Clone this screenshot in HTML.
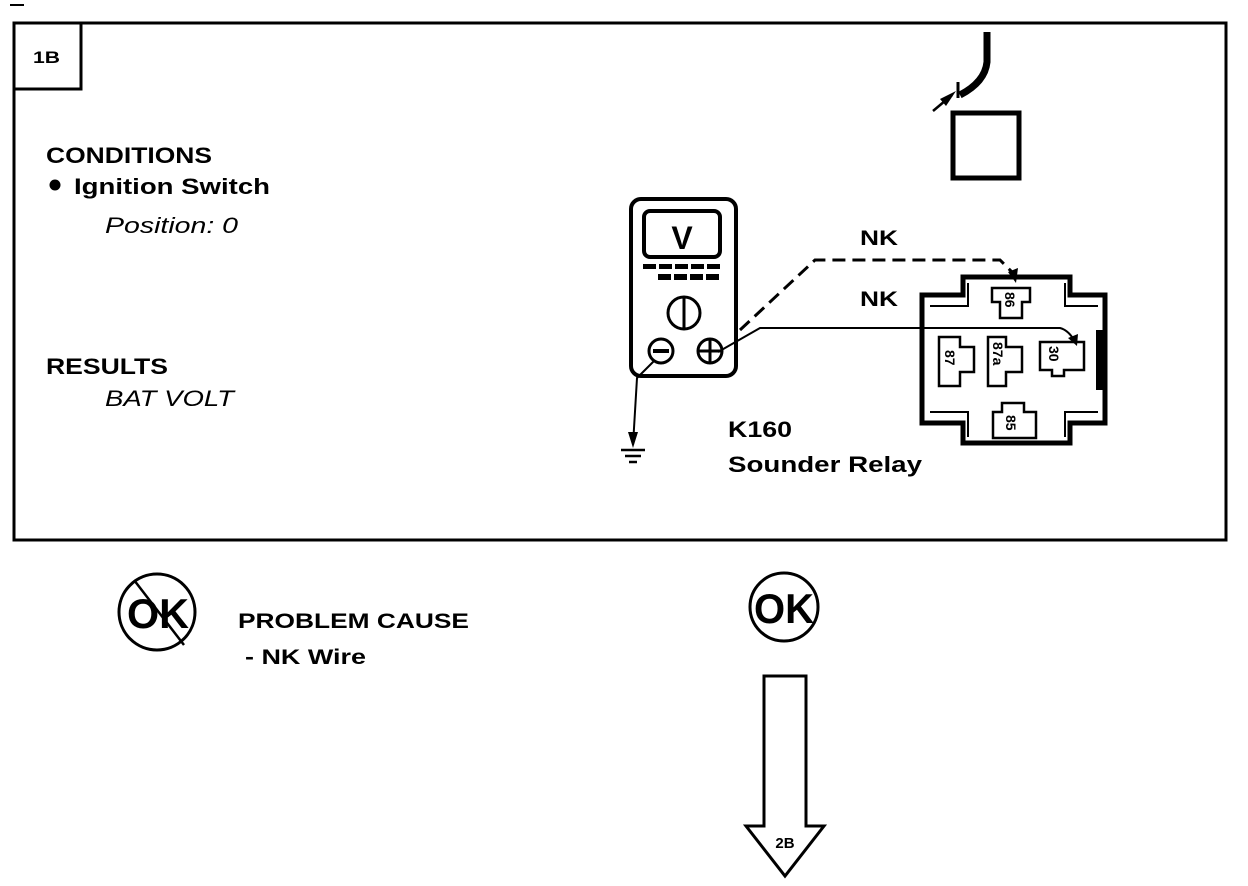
<!DOCTYPE html>
<html><head><meta charset="utf-8"><style>
html,body{margin:0;padding:0;background:#fff;}
svg{display:block;}
text{font-family:"Liberation Sans",Arial,sans-serif;fill:#000;}
.b{font-weight:bold;}
</style></head><body>
<svg width="1248" height="886" viewBox="0 0 1248 886" xmlns="http://www.w3.org/2000/svg">
<line x1="10" y1="5" x2="24" y2="5" stroke="#000" stroke-width="2"/>
<rect x="14" y="23" width="1212" height="517" fill="none" stroke="#000" stroke-width="3"/>
<rect x="14" y="23" width="67" height="66" fill="none" stroke="#000" stroke-width="3"/>
<text x="33" y="63" class="b" font-size="17" textLength="27" lengthAdjust="spacingAndGlyphs">1B</text>

<text x="46" y="163" class="b" font-size="22" textLength="166" lengthAdjust="spacingAndGlyphs">CONDITIONS</text>
<circle cx="55" cy="185" r="5.5" fill="#000"/>
<text x="74" y="194" class="b" font-size="22" textLength="196" lengthAdjust="spacingAndGlyphs">Ignition  Switch</text>
<text x="105" y="233" font-style="italic" font-size="22" textLength="133" lengthAdjust="spacingAndGlyphs">Position:  0</text>
<text x="46" y="374" class="b" font-size="22" textLength="122" lengthAdjust="spacingAndGlyphs">RESULTS</text>
<text x="105" y="406" font-style="italic" font-size="22" textLength="129" lengthAdjust="spacingAndGlyphs">BAT VOLT</text>

<path d="M987,32 L987,62 Q985,82 960,95" fill="none" stroke="#000" stroke-width="7"/>
<line x1="958" y1="82" x2="958" y2="98" stroke="#000" stroke-width="3"/>
<line x1="933" y1="111" x2="952" y2="95" stroke="#000" stroke-width="2.5"/>
<polygon points="956,91 940,99 946,106" fill="#000"/>
<rect x="953" y="113" width="66" height="65" fill="none" stroke="#000" stroke-width="5"/>

<rect x="631" y="199" width="105" height="177" rx="10" fill="none" stroke="#000" stroke-width="4"/>
<rect x="644" y="211" width="76" height="46" rx="6" fill="none" stroke="#000" stroke-width="4"/>
<text x="682" y="249" class="b" font-size="32" text-anchor="middle">V</text>
<g fill="#000">
<rect x="643" y="264" width="13" height="5"/><rect x="659" y="264" width="13" height="5"/><rect x="675" y="264" width="13" height="5"/><rect x="691" y="264" width="13" height="5"/><rect x="707" y="264" width="13" height="5"/>
<rect x="658" y="274" width="13" height="6"/><rect x="674" y="274" width="13" height="6"/><rect x="690" y="274" width="13" height="6"/><rect x="706" y="274" width="13" height="6"/>
</g>
<circle cx="684" cy="313" r="16" fill="none" stroke="#000" stroke-width="3"/>
<line x1="684" y1="298" x2="684" y2="328" stroke="#000" stroke-width="3"/>
<circle cx="661" cy="351" r="12" fill="none" stroke="#000" stroke-width="3"/>
<line x1="653" y1="351" x2="669" y2="351" stroke="#000" stroke-width="4"/>
<circle cx="710" cy="351" r="12" fill="none" stroke="#000" stroke-width="3"/>
<line x1="698" y1="351" x2="722" y2="351" stroke="#000" stroke-width="3"/>
<line x1="710" y1="339" x2="710" y2="363" stroke="#000" stroke-width="3"/>

<polyline points="655,360 637,378 633,445" fill="none" stroke="#000" stroke-width="2"/>
<polygon points="628,432 638,432 633,448" fill="#000"/>
<line x1="621" y1="450" x2="645" y2="450" stroke="#000" stroke-width="2.5"/>
<line x1="625" y1="456" x2="641" y2="456" stroke="#000" stroke-width="2.5"/>
<line x1="629" y1="462" x2="637" y2="462" stroke="#000" stroke-width="2.5"/>

<polyline points="740,330 815,260 1000,260 1012,272" fill="none" stroke="#000" stroke-width="3" stroke-dasharray="13,7"/>
<polygon points="1008,272 1018,268 1016,283" fill="#000"/>
<text x="860" y="245" class="b" font-size="21" textLength="38" lengthAdjust="spacingAndGlyphs">NK</text>
<text x="860" y="306" class="b" font-size="21" textLength="38" lengthAdjust="spacingAndGlyphs">NK</text>
<path d="M718,352 L760,328 L1060,328 Q1068,330 1074,340" fill="none" stroke="#000" stroke-width="2"/>
<polygon points="1068,338 1078,334 1077,346" fill="#000"/>

<polygon points="963,277 1070,277 1070,295 1105,295 1105,423 1070,423 1070,443 963,443 963,423 922,423 922,295 963,295" fill="none" stroke="#000" stroke-width="5"/>
<polyline points="930,306 968,306 968,283" fill="none" stroke="#000" stroke-width="2"/>
<polyline points="1065,283 1065,306 1098,306" fill="none" stroke="#000" stroke-width="2"/>
<polyline points="930,412 968,412 968,437" fill="none" stroke="#000" stroke-width="2"/>
<polyline points="1065,437 1065,412 1098,412" fill="none" stroke="#000" stroke-width="2"/>
<rect x="1096" y="330" width="8" height="60" fill="#000"/>
<g fill="none" stroke="#000" stroke-width="2.5">
<path d="M992,288 H1030 V302 H1022 V318 H1000 V302 H992 Z"/>
<path d="M939,337 H960 V347 H974 V372 H960 V386 H939 Z"/>
<path d="M988,337 H1006 V347 H1022 V372 H1006 V386 H988 Z"/>
<path d="M1040,342 H1084 V370 H1064 V376 H1052 V370 H1040 Z"/>
<path d="M1002,403 H1024 V412 H1036 V438 H993 V412 H1002 Z"/>
</g>
<g font-size="14" class="b">
<text transform="translate(1005,292) rotate(90)">86</text>
<text transform="translate(945,350) rotate(90)">87</text>
<text transform="translate(993,342) rotate(90)">87a</text>
<text transform="translate(1049,346) rotate(90)">30</text>
<text transform="translate(1006,415) rotate(90)">85</text>
</g>
<text x="728" y="437" class="b" font-size="22" textLength="64" lengthAdjust="spacingAndGlyphs">K160</text>
<text x="728" y="472" class="b" font-size="22" textLength="194" lengthAdjust="spacingAndGlyphs">Sounder Relay</text>

<circle cx="157" cy="612" r="38" fill="none" stroke="#000" stroke-width="3"/>
<line x1="134" y1="580" x2="184" y2="645" stroke="#000" stroke-width="2.5"/>
<text x="127" y="628" class="b" font-size="42" textLength="62" lengthAdjust="spacingAndGlyphs">OK</text>
<text x="238" y="628" class="b" font-size="21" textLength="231" lengthAdjust="spacingAndGlyphs">PROBLEM  CAUSE</text>
<text x="245" y="664" class="b" font-size="21" textLength="121" lengthAdjust="spacingAndGlyphs">- NK Wire</text>

<circle cx="784" cy="607" r="34" fill="none" stroke="#000" stroke-width="3"/>
<text x="754" y="623" class="b" font-size="42" textLength="60" lengthAdjust="spacingAndGlyphs">OK</text>
<path d="M764,676 H806 V826 H824 L785,876 L746,826 H764 Z" fill="none" stroke="#000" stroke-width="3"/>
<text x="785" y="848" class="b" font-size="15" text-anchor="middle">2B</text>
</svg>
</body></html>
